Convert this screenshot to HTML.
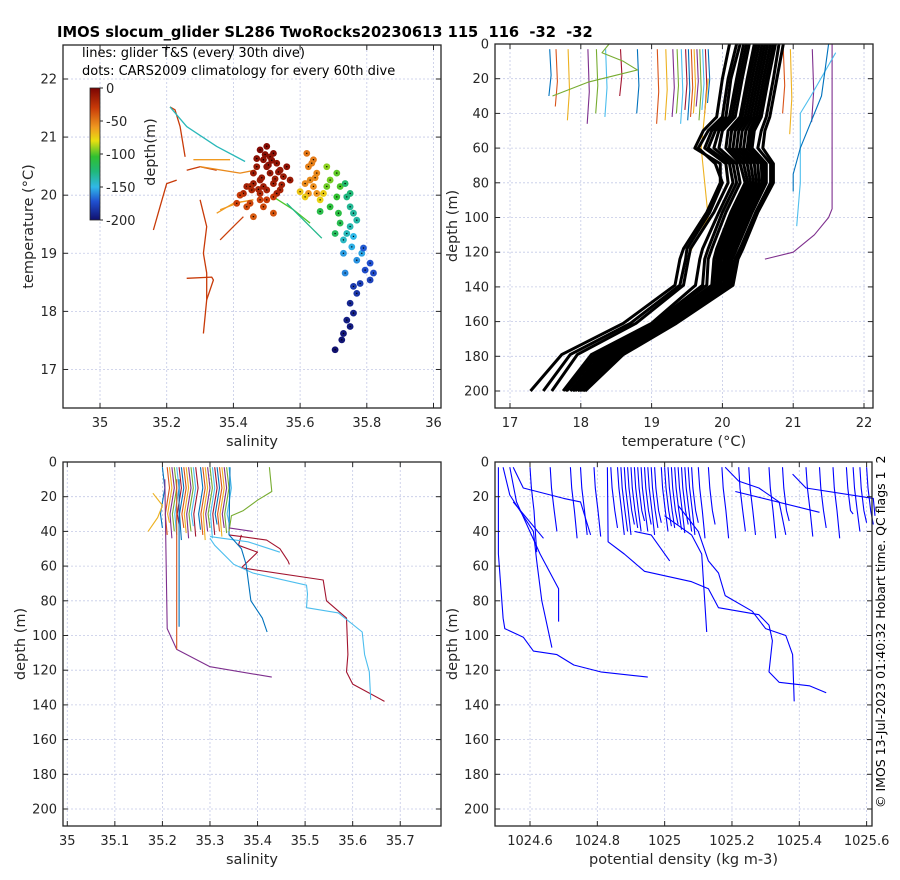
<!DOCTYPE html>
<html><head><meta charset="utf-8"><style>
html,body{margin:0;padding:0;background:#fff;}
svg{display:block;font-family:"DejaVu Sans","Liberation Sans",sans-serif;}
text{white-space:pre;}
</style></head><body>
<svg id="fig" width="900" height="880" viewBox="0 0 900 880" xmlns="http://www.w3.org/2000/svg">
<defs>
<linearGradient id="cbar" x1="0" y1="0" x2="0" y2="1">
<stop offset="0" stop-color="#7a0403"/><stop offset="0.15" stop-color="#c83a08"/><stop offset="0.3" stop-color="#f09a20"/><stop offset="0.4" stop-color="#e8e010"/><stop offset="0.52" stop-color="#30c030"/><stop offset="0.63" stop-color="#20b878"/><stop offset="0.75" stop-color="#30b8e8"/><stop offset="0.86" stop-color="#2050d0"/><stop offset="1" stop-color="#10106e"/>
</linearGradient>
</defs>
<text x="57" y="37" font-size="14.7" font-weight="bold" fill="#000" xml:space="preserve">IMOS slocum_glider SL286 TwoRocks20230613 115  116  -32  -32</text>
<text transform="translate(885,808) rotate(-90)" font-size="12.5" fill="#000" xml:space="preserve">© IMOS 13-Jul-2023 01:40:32 Hobart time. QC flags 1  2</text>
</svg>
<script>
// ---------- DATA ----------
const tsDotS = [35.500,35.480,35.520,35.490,35.530,35.560,35.470,35.510,35.550,35.480,35.520,35.460,35.440,35.570,35.540,35.500,35.430,35.480,35.530,35.510,35.540,35.490,35.455,35.500,35.460,35.470,35.495,35.515,35.535,35.485,35.505,35.525,35.545,35.475,35.45,
35.420,35.450,35.480,35.520,35.440,35.490,35.520,35.460,35.410,35.500,
35.620,35.640,35.625,35.650,35.630,35.640,35.625,35.650,35.615,35.635,35.645,
35.600,35.615,35.660,35.670,
35.680,35.680,35.690,35.710,35.720,35.710,35.690,35.660,35.715,35.720,35.705,
35.735,35.750,35.740,35.750,35.760,35.750,35.730,35.770,35.740,
35.760,35.755,35.730,35.785,35.770,35.735,
35.790,35.810,35.820,35.795,35.810,35.780,35.770,35.760,
35.750,35.760,35.740,35.750,35.730,35.725,35.705];
const tsDotT = [20.84,20.78,20.72,20.61,20.55,20.49,20.49,20.38,20.32,20.26,20.20,20.20,20.15,20.26,20.09,20.09,20.03,20.03,20.03,20.66,20.43,20.15,20.09,20.49,20.38,20.63,20.70,20.60,20.40,20.30,20.52,20.28,20.18,20.10,20.15,
20.00,19.86,19.92,19.97,19.80,19.80,19.69,19.63,19.86,19.92,
20.72,20.61,20.49,20.38,20.26,20.15,20.03,20.03,20.20,20.55,20.30,
20.06,19.97,19.92,20.03,
20.49,20.15,20.26,20.38,20.15,19.97,19.80,19.72,19.69,19.52,19.34,
20.20,20.03,19.97,19.80,19.69,19.46,19.23,19.57,19.34,
19.29,19.11,19.00,19.00,18.88,18.66,
19.09,18.83,18.66,18.71,18.54,18.48,18.31,18.43,
18.14,17.97,17.85,17.74,17.62,17.51,17.34];
const tsDotDepth = [5,3,6,8,10,8,12,10,12,14,15,14,16,12,18,18,20,20,18,9,11,15,19,9,13,7,6,8,10,12,8,14,16,18,20,
30,33,32,30,35,35,38,40,32,31,
48,50,52,54,55,56,58,58,55,52,55,
72,74,76,74,
92,96,95,98,100,104,108,112,110,114,118,
122,126,128,132,134,138,142,136,140,
150,152,156,154,158,160,
170,172,175,174,178,180,184,182,
190,192,194,195,197,198,200];
const tsLineS = [[35.21,35.225,35.24,35.255],[35.23,35.20,35.18,35.16],[35.30,35.32,35.31,35.32,35.32,35.31],[35.26,35.335,35.34,35.32],[35.36,35.40,35.43],[35.26,35.30,35.35],[35.21,35.26,35.35,35.435],[35.28,35.39],[35.30,35.42,35.465],[35.36,35.425],[35.35,35.40,35.46],[35.52,35.58,35.63],[35.56,35.665]];
const tsLineT = [[21.52,21.47,21.18,20.66],[20.26,20.20,19.80,19.40],[19.92,19.46,19.00,18.66,18.20,17.62],[18.57,18.59,18.54,18.20],[19.23,19.46,19.63],[20.43,20.49,20.43],[21.52,21.18,20.84,20.58],[20.61,20.61],[20.49,20.38,20.43],[19.75,19.89],[19.69,19.86,19.92],[19.97,19.75,19.52],[19.86,19.26]];
const tsLineDepth = [30,30,30,30,32,30,140,60,55,60,60,100,130];
const cbarTicks = [0,-50,-100,-150,-200];

const climDepth = [0,20,42,50,60,69,80,97,118,124,139,161,179,200];
const climTemp = [
[20.10,20.00,19.92,19.73,19.61,19.97,19.97,19.78,19.45,19.40,19.33,18.60,17.73,17.29],
[20.20,20.08,20.00,19.80,19.66,19.90,20.00,19.82,19.50,19.48,19.40,18.70,17.85,17.47],
[20.25,20.12,20.05,19.85,19.75,20.05,20.08,19.88,19.55,19.52,19.45,18.78,17.95,17.59],
[20.30,20.20,20.10,19.90,19.80,20.10,20.15,19.95,19.72,19.68,19.62,19.00,18.15,17.75],
[20.34,20.24,20.14,19.95,19.88,20.15,20.20,20.00,19.80,19.75,19.72,19.03,18.20,17.78],
[20.38,20.28,20.18,20.00,19.95,20.20,20.25,20.05,19.85,19.80,19.78,19.05,18.25,17.80],
[20.45,20.35,20.25,20.08,20.05,20.25,20.32,20.12,19.92,19.88,19.85,19.10,18.30,17.85],
[20.48,20.38,20.28,20.13,20.10,20.30,20.36,20.16,19.95,19.92,19.88,19.12,18.32,17.88],
[20.52,20.42,20.32,20.18,20.15,20.35,20.40,20.20,19.98,19.95,19.92,19.15,18.35,17.90],
[20.56,20.46,20.36,20.23,20.20,20.40,20.44,20.24,20.02,19.98,19.95,19.18,18.38,17.92],
[20.60,20.50,20.40,20.28,20.25,20.45,20.48,20.28,20.05,20.02,19.98,19.20,18.42,17.95],
[20.64,20.54,20.44,20.33,20.30,20.50,20.52,20.32,20.08,20.05,20.02,19.22,18.45,17.96],
[20.68,20.58,20.48,20.38,20.35,20.55,20.56,20.36,20.12,20.08,20.05,19.25,18.48,17.98],
[20.72,20.62,20.52,20.42,20.38,20.58,20.59,20.39,20.16,20.11,20.08,19.28,18.50,18.00],
[20.75,20.65,20.55,20.45,20.42,20.62,20.62,20.42,20.20,20.14,20.10,19.30,18.52,18.02],
[20.80,20.72,20.62,20.55,20.50,20.68,20.68,20.47,20.25,20.18,20.12,19.32,18.56,18.04],
[20.86,20.77,20.67,20.60,20.57,20.72,20.72,20.50,20.29,20.22,20.15,19.35,18.60,18.06]];
const shallowTemp = [17.56,17.65,17.82,18.10,18.22,18.35,18.56,18.80,19.08,19.20,19.30,19.36,19.42,19.48,19.52,19.56,19.60,19.64,19.68,19.72,19.76,19.80,20.86,20.96,21.27];
const shallowTempBottom = [30,36,44,46,40,42,30,40,46,44,42,40,46,38,44,42,40,36,44,38,40,34,40,52,45];
const longTempT = [[21.55,21.55,21.50,21.30,21.00,20.60],[21.60,21.25,21.10,21.10,21.05],[21.50,21.40,21.10,21.00,21.00],[19.80,19.70,19.80,19.60,19.50],[18.40,18.30,18.60,18.80,18.50,18.10,17.60]];
const longTempD = [[0,95,100,110,120,124],[5,30,40,80,105],[0,30,60,75,85],[20,60,100,115,125],[0,5,10,15,18,22,30]];

const shallowSal = [35.20,35.21,35.215,35.22,35.225,35.23,35.235,35.24,35.245,35.25,35.255,35.26,35.265,35.27,35.28,35.285,35.29,35.295,35.30,35.305,35.31,35.315,35.32,35.325,35.33,35.335,35.34];
const shallowSalBottom = [38,42,35,44,40,42,36,45,38,41,44,40,37,43,39,42,45,40,38,44,42,36,40,43,38,41,35];
const longSalS = [[35.205,35.21,35.23,35.30,35.43],[35.23,35.23],[35.235,35.235],[35.34,35.366,35.419,35.447,35.464,35.467],[35.366,35.36,35.40,35.366,35.538,35.545,35.587,35.59,35.587,35.60,35.667],[35.30,35.31,35.35,35.39,35.503,35.505,35.503,35.57,35.62,35.625,35.635,35.638],[35.30,35.38,35.447],[35.342,35.34,35.366,35.376,35.386,35.41,35.42],[35.34,35.345,35.37,35.40,35.43,35.425],[35.34,35.39],[35.18,35.20,35.19,35.17]];
const longSalD = [[10,96,108,118,124],[10,108],[10,95],[42,43,45,50,57,59],[42,48,52,61,68,80,90,111,121,128,138],[44,48,59,64,71,76,84,87,98,111,121,137],[43,46,52],[3,42,50,59,80,90,98],[40,31,28,22,17,3],[38,40],[18,25,32,40]];

const longRhoX = [[1024.506,1024.506,1024.52,1024.525,1024.58,1024.61,1024.68,1024.73,1024.81,1024.95],[1024.52,1024.54,1024.61,1024.62,1024.635,1024.665],[1024.54,1024.56,1024.63,1024.685,1024.685],[1024.55,1024.58,1024.70,1024.75,1024.78],[1024.55,1024.64],[1024.83,1024.832,1024.88,1024.94,1025.08,1025.13,1025.16,1025.28,1025.31,1025.32,1025.31,1025.34,1025.43,1025.48],[1025.00,1025.08,1025.11,1025.125],[1025.04,1025.10,1025.13,1025.16,1025.18,1025.26,1025.30,1025.36,1025.38,1025.385],[1024.91,1024.96,1025.015],[1025.18,1025.22,1025.28,1025.34,1025.36],[1025.21,1025.46],[1025.38,1025.42,1025.62,1025.625]];
const longRhoD = [[3,53,90,96,101,109,111,117,121,124],[3,19,40,57,80,107],[3,23,53,73,92],[3,15,21,23,42],[23,44],[3,46,53,63,69,73,84,88,94,103,121,127,129,133],[31,42,53,98],[25,40,57,64,77,86,96,100,111,138],[40,42,57],[3,11,15,23,42],[17,29],[7,15,21,31]];
const shallowRho = [1024.60,1024.66,1024.72,1024.75,1024.79,1024.84,1024.86,1024.87,1024.88,1024.89,1024.90,1024.91,1024.92,1024.93,1024.94,1024.95,1024.96,1024.97,1024.99,1025.00,1025.01,1025.02,1025.03,1025.04,1025.05,1025.06,1025.07,1025.08,1025.10,1025.13,1025.17,1025.22,1025.25,1025.31,1025.35,1025.42,1025.46,1025.50,1025.54,1025.56,1025.58,1025.60];
const shallowRhoBottom = [52,40,44,42,43,38,42,40,42,36,38,40,34,40,36,42,38,35,40,37,38,36,39,41,36,40,42,35,44,36,44,40,42,44,34,43,38,44,30,40,35,36];

// ---------- DRAWING ----------
const svg = document.getElementById('fig');
const NS = 'http://www.w3.org/2000/svg';
const lineColors = ['#0072BD','#D95319','#EDB120','#7E2F8E','#77AC30','#4DBEEE','#A2142F'];
function el(tag, attrs, parent){const e=document.createElementNS(NS,tag);for(const k in attrs)e.setAttribute(k,attrs[k]);(parent||svg).appendChild(e);return e;}
function lin(d0,d1,p0,p1){return v=>p0+(v-d0)*(p1-p0)/(d1-d0);}
function depthColor(d){
  const stops=[[0,[122,4,3]],[0.15,[200,58,8]],[0.3,[240,154,32]],[0.4,[232,224,16]],[0.52,[48,192,48]],[0.63,[32,184,120]],[0.75,[48,184,232]],[0.86,[32,80,208]],[1,[16,16,110]]];
  const t=Math.max(0,Math.min(1,d/200));
  for(let i=1;i<stops.length;i++){if(t<=stops[i][0]){const a=stops[i-1],b=stops[i];const f=(t-a[0])/(b[0]-a[0]);const c=a[1].map((v,j)=>Math.round(v+(b[1][j]-v)*f));return `rgb(${c[0]},${c[1]},${c[2]})`;}}
  return 'rgb(16,16,110)';
}
function fmt(v){return String(+v.toFixed(2));}

function makePanel(name,px0,px1,py0,py1,xd0,xd1,yd0,yd1,xticks,yticks,xlabel,ylabel,ylabelX){
  const g=el('g',{});
  
  
  const X=lin(xd0,xd1,px0,px1), Y=lin(yd0,yd1,py0,py1);
  const grid=el('g',{},g);
  
  
  xticks.forEach(t=>{const x=X(t);el('line',{x1:x,x2:x,y1:py0,y2:py1,stroke:'#c4c9e6','stroke-width':0.8,'stroke-dasharray':'2,2'},grid);});
  yticks.forEach(t=>{const y=Y(t);el('line',{x1:px0,x2:px1,y1:y,y2:y,stroke:'#c4c9e6','stroke-width':0.8,'stroke-dasharray':'2,2'},grid);});
  const plot=el('g',{},g);
  
  
  const ax=el('g',{},g);
  
  
  el('rect',{x:px0,y:Math.min(py0,py1),width:px1-px0,height:Math.abs(py1-py0),fill:'none',stroke:'#262626','stroke-width':1.3},ax);
  const top=Math.min(py0,py1), bot=Math.max(py0,py1);
  xticks.forEach(t=>{const x=X(t);
    el('line',{x1:x,x2:x,y1:bot,y2:bot-5,stroke:'#262626'},ax);
    el('line',{x1:x,x2:x,y1:top,y2:top+5,stroke:'#262626'},ax);
    const tx=el('text',{x:x,y:bot+19,'font-size':13,'text-anchor':'middle',fill:'#262626'},ax);tx.textContent=fmt(t);
    
    
  });
  yticks.forEach(t=>{const y=Y(t);
    el('line',{x1:px0,x2:px0+5,y1:y,y2:y,stroke:'#262626'},ax);
    el('line',{x1:px1,x2:px1-5,y1:y,y2:y,stroke:'#262626'},ax);
    const tx=el('text',{x:px0-6,y:y+4.5,'font-size':13,'text-anchor':'end',fill:'#262626'},ax);tx.textContent=fmt(t);
    
    
  });
  const xl=el('text',{x:(px0+px1)/2,y:bot+38,'font-size':14.5,'text-anchor':'middle',fill:'#262626'},ax);xl.textContent=xlabel;
  
  
  const yl=el('text',{transform:`translate(${ylabelX},${(top+bot)/2}) rotate(-90)`,'font-size':14.5,'text-anchor':'middle',fill:'#262626'},ax);yl.textContent=ylabel;
  
  
  return {X,Y,plot};
}
function poly(plot,X,Y,xs,ys,color,w,name){
  const pts=xs.map((v,i)=>X(v).toFixed(1)+','+Y(ys[i]).toFixed(1)).join(' ');
  const p=el('polyline',{points:pts,fill:'none',stroke:color,'stroke-width':w,'stroke-linejoin':'round'},plot);
  
  
  return p;
}

// ----- Top-left T/S -----
const TL=makePanel('ts-diagram',63,441,408,45,34.889,36.0225,16.337,22.585,[35,35.2,35.4,35.6,35.8,36],[17,18,19,20,21,22],'salinity','temperature (°C)',33);
tsLineS.forEach((xs,i)=>{poly(TL.plot,TL.X,TL.Y,xs,tsLineT[i],depthColor(tsLineDepth[i]),1.3,'glider-ts-trace');});
tsDotS.forEach((s,i)=>{
  const c=el('circle',{cx:TL.X(s),cy:TL.Y(tsDotT[i]),r:3.4,fill:depthColor(tsDotDepth[i])},TL.plot);
  
  
  el('circle',{cx:TL.X(s),cy:TL.Y(tsDotT[i]),r:0.7,fill:'#000'},TL.plot);
});
const n1=el('text',{x:82,y:57,'font-size':13,fill:'#000'});n1.textContent='lines: glider T&S (every 30th dive)';


const n2=el('text',{x:82,y:75,'font-size':13,fill:'#000'});n2.textContent='dots: CARS2009 climatology for every 60th dive';


const cb=el('rect',{x:90,y:88,width:10,height:132,fill:'url(#cbar)',stroke:'#262626','stroke-width':0.8});


const CBY=lin(0,-200,88,220);
cbarTicks.forEach(t=>{
  el('line',{x1:100,x2:103,y1:CBY(t),y2:CBY(t),stroke:'#262626'});
  const tx=el('text',{x:106,y:CBY(t)+5,'font-size':13,fill:'#262626'});tx.textContent=String(t);
  
  
});
const cbl=el('text',{transform:'translate(155,152) rotate(-90)','font-size':14.5,'text-anchor':'middle',fill:'#262626'});cbl.textContent='depth(m)';



// ----- Top-right temperature -----
const TR=makePanel('temperature-profile',495,873,44,408,16.788,22.127,0,209.8,[17,18,19,20,21,22],[0,20,40,60,80,100,120,140,160,180,200],'temperature (°C)','depth (m)',457);
shallowTemp.forEach((t,i)=>{poly(TR.plot,TR.X,TR.Y,[t,t+0.02,t-0.01],[3,shallowTempBottom[i]*0.6,shallowTempBottom[i]],lineColors[i%7],1.1,'glider-temperature-dive');});
longTempT.forEach((xs,i)=>{poly(TR.plot,TR.X,TR.Y,xs,longTempD[i],lineColors[(i*2+3)%7],1.1,'glider-temperature-dive');});
climTemp.forEach(ts=>{poly(TR.plot,TR.X,TR.Y,ts,climDepth,'#000',3,'climatology-temperature-profile');});

// ----- Bottom-left salinity -----
const BL=makePanel('salinity-profile',63,441,462,826,34.991,35.7857,0,209.8,[35,35.1,35.2,35.3,35.4,35.5,35.6,35.7],[0,20,40,60,80,100,120,140,160,180,200],'salinity','depth (m)',25);
shallowSal.forEach((s,i)=>{poly(BL.plot,BL.X,BL.Y,[s,s+0.005,s-0.004,s],[3,15,30,shallowSalBottom[i]],lineColors[i%7],1.1,'glider-salinity-dive');});
longSalS.forEach((xs,i)=>{poly(BL.plot,BL.X,BL.Y,xs,longSalD[i],lineColors[[3,1,0,6,6,5,5,0,4,3,2][i]],1.1,'glider-salinity-dive');});

// ----- Bottom-right density -----
const BR=makePanel('density-profile',495,872,462,826,1024.496,1025.616,0,209.8,[1024.6,1024.8,1025,1025.2,1025.4,1025.6],[0,20,40,60,80,100,120,140,160,180,200],'potential density (kg m-3)','depth (m)',457);
shallowRho.forEach((r,i)=>{poly(BR.plot,BR.X,BR.Y,[r,r+0.004,r+0.012,r+0.02],[3,15,28,shallowRhoBottom[i]],'#0000ff',1.1,'glider-density-dive');});
longRhoX.forEach((xs,i)=>{poly(BR.plot,BR.X,BR.Y,xs,longRhoD[i],'#0000ff',1.1,'glider-density-dive');});
</script>
</body></html>
